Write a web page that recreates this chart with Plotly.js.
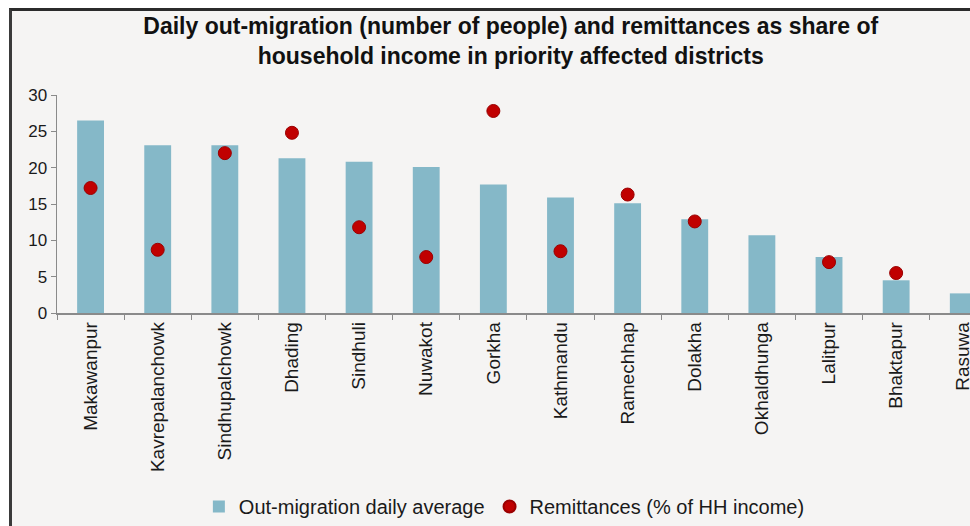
<!DOCTYPE html>
<html>
<head>
<meta charset="utf-8">
<script src="https://cdn.plot.ly/plotly-3.0.1.min.js"></script>
<style>
  html, body { margin: 0; padding: 0; background: #ffffff; }
  #wrap { position: relative; width: 970px; height: 526px; overflow: hidden; }
  #bg { position: absolute; left: 9px; top: 8px; width: 961px; height: 518px;
        background: #f5f4f3; border-top: 3px solid #2b2b2b; border-left: 3px solid #3a3a3a; box-sizing: border-box; }
  #chart { position: absolute; left: 0; top: 0; width: 970px; height: 526px; }
</style>
</head>
<body>
<div id="wrap">
  <div id="bg"></div>
  <div id="chart"></div>
</div>
<script>
const districts = ["Makawanpur", "Kavrepalanchowk", "Sindhupalchowk", "Dhading", "Sindhuli", "Nuwakot", "Gorkha", "Kathmandu", "Ramechhap", "Dolakha", "Okhaldhunga", "Lalitpur", "Bhaktapur", "Rasuwa"];
const outMigration = [26.5, 23.1, 23.1, 21.3, 20.8, 20.1, 17.7, 15.9, 15.1, 12.9, 10.7, 7.7, 4.5, 2.7];
const remittances = [17.2, 8.7, 22.0, 24.8, 11.8, 7.7, 27.8, 8.5, 16.3, 12.6, null, 7.0, 5.5, null];
const yTicks = [0, 5, 10, 15, 20, 25, 30];

const font = "Liberation Sans, Arial, sans-serif";

const traces = [
  {
    type: "bar",
    name: "Out-migration daily average",
    x: districts,
    y: outMigration,
    marker: { color: "#85b8c8" },
    hoverinfo: "x+y"
  },
  {
    type: "scatter",
    mode: "markers",
    name: "Remittances (% of HH income)",
    x: districts,
    y: remittances,
    marker: { color: "#c00000", size: 13, line: { color: "#9a0000", width: 1 } },
    cliponaxis: false
  }
];

const layout = {
  width: 970,
  height: 526,
  paper_bgcolor: "rgba(0,0,0,0)",
  plot_bgcolor: "rgba(0,0,0,0)",
  margin: { l: 57, r: 0, t: 95, b: 209 },
  bargap: 0.6,
  showlegend: true,
  font: { family: font, color: "#1a1a1a" },
  title: {
    text: "Daily out-migration (number of people) and remittances as share of<br>household income in priority affected districts",
    font: { family: font, size: 23, color: "#111111", weight: "bold" },
    xref: "paper",
    x: 0.497,
    xanchor: "center",
    yref: "container",
    y: 0.935,
    yanchor: "top"
  },
  xaxis: {
    type: "category",
    range: [-0.5, 13.1],
    tickangle: -90,
    tickfont: { family: font, size: 19, color: "#1a1a1a" },
    showline: true,
    linecolor: "#8a8a8a",
    linewidth: 1.5,
    ticks: "outside",
    tickson: "boundaries",
    ticklen: 5,
    tickcolor: "#8a8a8a",
    showgrid: false,
    zeroline: false,
    fixedrange: true
  },
  yaxis: {
    range: [0, 30],
    tickvals: yTicks,
    ticktext: yTicks.map(String),
    tickfont: { family: font, size: 17, color: "#1a1a1a" },
    showline: true,
    linecolor: "#8a8a8a",
    linewidth: 1.5,
    ticks: "outside",
    ticklen: 5,
    tickcolor: "#8a8a8a",
    showgrid: false,
    zeroline: false,
    fixedrange: true
  },
  legend: {
    orientation: "h",
    x: 0.49,
    xanchor: "center",
    y: -0.89,
    yanchor: "middle",
    font: { family: font, size: 20, color: "#1a1a1a" },
    bgcolor: "rgba(0,0,0,0)",
    itemsizing: "constant",
    traceorder: "normal"
  }
};

Plotly.newPlot("chart", traces, layout, { displayModeBar: false, staticPlot: true });
</script>
</body>
</html>
